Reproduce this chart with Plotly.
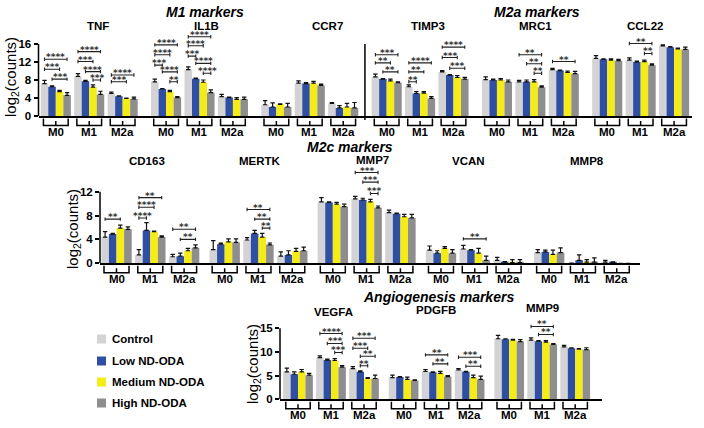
import plotly.graph_objects as go

W, H = 704, 428

TREATMENTS = ["Control", "Low ND-ODA", "Medium ND-ODA", "High ND-ODA"]
COLORS = ["#d3d3d5", "#2f4fa3", "#f5ec17", "#8e8e8e"]
GROUPS = ["M0", "M1", "M2a"]

ROW1_GENES = ["TNF", "IL1B", "CCR7", "TIMP3", "MRC1", "CCL22"]
ROW2_GENES = ["CD163", "MERTK", "MMP7", "VCAN", "MMP8"]
ROW3_GENES = ["VEGFA", "PDGFB", "MMP9"]

# means [group][treatment], errors [group][treatment]
TNF_MEAN = [[7.2, 6.5, 5.4, 4.6], [8.8, 7.7, 6.4, 4.8], [5.0, 4.4, 3.9, 3.8]]
TNF_ERR = [[0.7, 0.2, 0.3, 0.6], [0.6, 0.2, 0.5, 0.7], [0.3, 0.1, 0.1, 0.4]]
IL1B_MEAN = [[7.6, 6.0, 5.4, 4.1], [10.3, 8.3, 7.5, 5.2], [4.3, 4.1, 3.7, 3.7]]
IL1B_ERR = [[0.6, 0.1, 0.3, 0.2], [0.6, 0.1, 0.5, 0.6], [0.5, 0.1, 0.4, 0.5]]
CCR7_MEAN = [[2.5, 2.0, 2.6, 2.0], [7.3, 7.2, 7.3, 6.8], [2.8, 1.8, 2.0, 1.8]]
CCR7_ERR = [[0.9, 0.9, 0.1, 0.8], [0.5, 0.2, 0.4, 0.3], [0.2, 0.5, 0.8, 1.2]]
TIMP3_MEAN = [[8.7, 8.2, 7.8, 7.4], [6.5, 5.0, 5.1, 3.9], [9.8, 9.1, 8.6, 8.2]]
TIMP3_ERR = [[0.6, 0.1, 0.4, 0.2], [0.4, 0.4, 0.3, 0.4], [0.3, 0.1, 0.4, 0.4]]
MRC1_MEAN = [[8.1, 8.0, 8.0, 7.6], [7.6, 7.6, 7.6, 6.4], [10.3, 10.1, 9.7, 9.4]]
MRC1_ERR = [[0.6, 0.2, 0.3, 0.4], [0.3, 0.4, 0.5, 0.3], [0.3, 0.1, 0.3, 0.5]]
CCL22_MEAN = [[12.8, 12.6, 12.4, 12.3], [12.4, 12.0, 12.1, 11.3], [15.6, 15.3, 14.9, 14.8]]
CCL22_ERR = [[0.6, 0.1, 0.3, 0.3], [0.5, 0.2, 0.3, 0.3], [0.2, 0.1, 0.2, 0.5]]

CD163_MEAN = [[4.4, 4.9, 5.9, 5.7], [1.4, 5.5, 5.3, 4.4], [1.1, 1.2, 2.1, 2.6]]
CD163_ERR = [[0.9, 0.1, 0.5, 0.4], [0.9, 1.3, 0.1, 0.2], [0.4, 0.5, 0.4, 0.5]]
MERTK_MEAN = [[2.3, 3.2, 3.6, 3.5], [3.9, 5.0, 4.4, 3.1], [1.2, 1.4, 2.0, 2.1]]
MERTK_ERR = [[1.5, 0.2, 0.5, 0.6], [0.4, 0.5, 0.6, 0.3], [0.7, 0.7, 0.5, 0.6]]
MMP7_MEAN = [[10.3, 10.2, 9.9, 9.5], [10.8, 10.6, 10.3, 9.3], [8.5, 8.3, 7.8, 7.6]]
MMP7_ERR = [[0.7, 0.1, 0.3, 0.4], [0.4, 0.3, 0.4, 0.3], [0.4, 0.1, 0.4, 0.6]]
VCAN_MEAN = [[2.2, 1.7, 2.5, 1.7], [2.4, 2.2, 1.7, 0.5], [0.5, 0.2, 0.1, 0.1]]
VCAN_ERR = [[0.7, 0.4, 0.3, 0.6], [0.6, 0.1, 0.8, 0.7], [0.5, 0.1, 0.5, 0.5]]
MMP8_MEAN = [[1.8, 1.9, 1.5, 1.8], [0.05, 0.5, 0.2, 0.2], [0.2, 0.1, 0.0, 0.0]]
MMP8_ERR = [[0.5, 0.3, 0.7, 0.8], [0.0, 0.9, 0.4, 0.7], [0.3, 0.15, 0.0, 0.0]]

VEGFA_MEAN = [[5.8, 5.3, 5.8, 5.1], [8.8, 8.3, 8.2, 6.8], [6.5, 5.8, 4.4, 4.4]]
VEGFA_ERR = [[0.8, 0.5, 0.5, 0.4], [0.4, 0.2, 0.4, 0.3], [0.4, 0.2, 0.2, 0.7]]
PDGFB_MEAN = [[4.6, 4.7, 4.2, 4.0], [5.9, 5.7, 5.5, 4.8], [6.2, 5.8, 4.6, 4.2]]
PDGFB_ERR = [[0.5, 0.1, 0.5, 0.1], [0.4, 0.1, 0.4, 0.2], [0.3, 0.1, 0.5, 0.7]]
MMP9_MEAN = [[12.8, 12.7, 12.5, 12.2], [12.5, 12.3, 12.1, 11.6], [11.1, 10.8, 10.6, 10.5]]
MMP9_ERR = [[0.7, 0.1, 0.2, 0.4], [0.5, 0.1, 0.3, 0.2], [0.3, 0.1, 0.1, 0.4]]

# significance: (group, bar_a, bar_b, level, label)
TNF_SIG = [(0, 0, 3, 12.6, "****"), (0, 0, 2, 10.4, "***"), (0, 1, 3, 8.2, "***"),
           (1, 0, 3, 14.3, "****"), (1, 0, 2, 12.1, "***"), (1, 1, 3, 9.85, "****"), (1, 2, 3, 8.0, "***"),
           (2, 0, 3, 9.1, "****"), (2, 0, 2, 7.6, "***")]
IL1B_SIG = [(0, 0, 3, 15.8, "****"), (0, 0, 2, 13.6, "****"), (0, 0, 1, 11.3, "***"),
            (0, 1, 3, 9.8, "****"), (0, 2, 3, 7.6, "**"),
            (1, 0, 3, 17.6, "****"), (1, 0, 2, 15.6, "****"), (1, 0, 1, 13.3, "***"),
            (1, 1, 3, 11.7, "****"), (1, 2, 3, 9.5, "****")]
CCR7_SIG = []
TIMP3_SIG = [(0, 0, 3, 13.6, "***"), (0, 0, 2, 11.8, "**"), (0, 1, 3, 9.8, "**"),
             (1, 0, 3, 11.8, "****"), (1, 0, 2, 9.8, "**"), (1, 0, 1, 7.6, "**"),
             (2, 0, 3, 15.3, "****"), (2, 0, 2, 13.0, "***"), (2, 1, 3, 10.6, "***")]
MRC1_SIG = [(1, 0, 3, 13.6, "**"), (1, 1, 3, 11.6, "**"), (1, 2, 3, 9.5, "**"), (2, 0, 3, 12.1, "**")]
CCL22_SIG = [(1, 0, 3, 16.1, "**"), (1, 2, 3, 13.9, "**")]
CD163_SIG = [(0, 0, 2, 7.4, "**"), (1, 0, 3, 11.0, "**"), (1, 0, 2, 9.4, "****"), (1, 0, 1, 7.6, "****"),
             (2, 0, 3, 5.7, "**"), (2, 1, 3, 4.0, "**")]
MERTK_SIG = [(1, 0, 3, 9.0, "**"), (1, 1, 3, 7.4, "**"), (1, 2, 3, 5.9, "**")]
MMP7_SIG = [(1, 0, 3, 15.2, "***"), (1, 1, 3, 13.6, "***"), (1, 2, 3, 11.7, "***")]
VCAN_SIG = [(1, 0, 3, 4.1, "**")]
MMP8_SIG = []
VEGFA_SIG = [(1, 0, 3, 13.9, "****"), (1, 1, 3, 11.8, "***"), (1, 2, 3, 9.9, "***"),
             (2, 0, 3, 12.9, "***"), (2, 0, 2, 10.8, "***"), (2, 1, 3, 9.1, "**"), (2, 1, 2, 7.1, "**")]
PDGFB_SIG = [(1, 0, 3, 9.4, "**"), (1, 1, 3, 7.5, "**"), (2, 0, 3, 8.9, "***"), (2, 1, 3, 7.0, "**")]
MMP9_SIG = [(1, 0, 3, 15.4, "**"), (1, 1, 3, 13.7, "**")]

MEANS = {"TNF": TNF_MEAN, "IL1B": IL1B_MEAN, "CCR7": CCR7_MEAN, "TIMP3": TIMP3_MEAN,
         "MRC1": MRC1_MEAN, "CCL22": CCL22_MEAN, "CD163": CD163_MEAN, "MERTK": MERTK_MEAN,
         "MMP7": MMP7_MEAN, "VCAN": VCAN_MEAN, "MMP8": MMP8_MEAN, "VEGFA": VEGFA_MEAN,
         "PDGFB": PDGFB_MEAN, "MMP9": MMP9_MEAN}
ERRS = {"TNF": TNF_ERR, "IL1B": IL1B_ERR, "CCR7": CCR7_ERR, "TIMP3": TIMP3_ERR,
        "MRC1": MRC1_ERR, "CCL22": CCL22_ERR, "CD163": CD163_ERR, "MERTK": MERTK_ERR,
        "MMP7": MMP7_ERR, "VCAN": VCAN_ERR, "MMP8": MMP8_ERR, "VEGFA": VEGFA_ERR,
        "PDGFB": PDGFB_ERR, "MMP9": MMP9_ERR}
SIGS = {"TNF": TNF_SIG, "IL1B": IL1B_SIG, "CCR7": CCR7_SIG, "TIMP3": TIMP3_SIG,
        "MRC1": MRC1_SIG, "CCL22": CCL22_SIG, "CD163": CD163_SIG, "MERTK": MERTK_SIG,
        "MMP7": MMP7_SIG, "VCAN": VCAN_SIG, "MMP8": MMP8_SIG, "VEGFA": VEGFA_SIG,
        "PDGFB": PDGFB_SIG, "MMP9": MMP9_SIG}

# layout of the three rows (pixel geometry)
ROWS = [
    dict(genes=ROW1_GENES, step=3.3, ax="", xpx=(38.5, 692.0), c0=55.8, ppx=33.42,
         base=116.0, ppu=4.5, axis_max=16, top=19.0, ticks=[0, 4, 8, 12, 16],
         glabel=[(98, 26), (206, 26), (327, 26), (428, 26), (535, 26), (645, 26)],
         ytitle=(11, 77)),
    dict(genes=ROW2_GENES, step=3.2, ax="2", xpx=(100.0, 640.0), c0=116.5, ppx=33.8,
         base=263.3, ppu=5.97, axis_max=12, top=16.5, ticks=[0, 4, 8, 12],
         glabel=[(147, 161), (260, 161), (372, 160), (469, 161), (587, 161)],
         ytitle=(73, 229)),
    dict(genes=ROW3_GENES, step=3.2, ax="3", xpx=(280.0, 602.0), c0=298.0, ppx=33.0,
         base=399.3, ppu=4.73, axis_max=15, top=16.5, ticks=[0, 5, 10, 15],
         glabel=[(333, 312), (436, 310), (542, 308)],
         ytitle=(253, 364)),
]
PANEL_TITLES = [("M1 markers", 205, 12), ("M2a markers", 537, 12),
                ("M2c markers", 350, 147), ("Angiogenesis markers", 438, 297)]
LEGEND_POS = (97, [339, 361, 382, 403])

BAR_GAP = 0.1
BAR_W = (1 - BAR_GAP) / 4
FONT = "Liberation Sans, Arial, sans-serif"
STAR_FONT = "DejaVu Sans, sans-serif"


def py(p):
    return 1 - p / H


fig = go.Figure()
shapes = []
annotations = []

for row in ROWS:
    ax = row["ax"]
    genes = row["genes"]
    xs = [g * row["step"] + k for g in range(len(genes)) for k in range(3)]
    for t in range(4):
        ys = [MEANS[gn][k][t] for gn in genes for k in range(3)]
        es = [ERRS[gn][k][t] for gn in genes for k in range(3)]
        fig.add_trace(go.Bar(
            x=xs, y=ys, name=TREATMENTS[t], showlegend=False,
            marker=dict(color=COLORS[t], line=dict(width=0)),
            error_y=dict(type="data", array=es, arrayminus=[0] * len(es), symmetric=False,
                         color="#111111", thickness=1.2, width=2.2),
            xaxis="x" + ax, yaxis="y" + ax,
        ))

    x0 = (row["xpx"][0] - row["c0"]) / row["ppx"]
    x1 = (row["xpx"][1] - row["c0"]) / row["ppx"]
    fig.layout["xaxis" + ax] = dict(
        domain=[row["xpx"][0] / W, row["xpx"][1] / W], range=[x0, x1],
        showline=True, linecolor="black", linewidth=1.5, ticks="", showticklabels=False,
        showgrid=False, zeroline=False, anchor="y" + ax, fixedrange=True, automargin=False)
    fig.layout["yaxis" + ax] = dict(
        domain=[py(row["base"]), py(row["base"] - row["top"] * row["ppu"])],
        range=[0, row["top"]], showline=False, ticks="outside", ticklen=4, tickwidth=1.5,
        tickcolor="black", tickvals=row["ticks"],
        tickfont=dict(family=FONT, size=11.5, color="black", weight="bold"),
        showgrid=False, zeroline=False, anchor="x" + ax, fixedrange=True, automargin=False)

    # y axis line from 0 to top tick
    shapes.append(dict(type="line", xref="x" + ax + " domain", yref="y" + ax,
                       x0=0, x1=0, y0=0, y1=row["axis_max"],
                       line=dict(color="black", width=1.5)))

    # y title
    tx, ty = row["ytitle"]
    annotations.append(dict(text="log<sub>2</sub>(counts)", xref="paper", yref="paper",
                            x=tx / W, y=py(ty), showarrow=False, textangle=-90,
                            xanchor="center", yanchor="middle",
                            font=dict(family=FONT, size=15, color="black")))

    base = row["base"]
    for gi, gn in enumerate(genes):
        lx, ly = row["glabel"][gi]
        annotations.append(dict(text=gn, xref="paper", yref="paper", x=lx / W, y=py(ly),
                                showarrow=False, xanchor="center", yanchor="middle",
                                font=dict(family=FONT, size=11.5, color="black", weight="bold")))
        for k in range(3):
            c = gi * row["step"] + k
            # group bracket under the axis
            top, bot, mid = py(base + 2.5), py(base + 9.5), py(base + 5)
            xl, xr = c - 0.37, c + 0.37
            shapes.append(dict(type="path", xref="x" + ax, yref="paper",
                               path=f"M{xl},{top} V{bot} H{xr} V{top} M{c},{bot} V{mid}",
                               line=dict(color="black", width=1.5)))
            annotations.append(dict(text=GROUPS[k], xref="x" + ax, yref="paper", x=c,
                                    y=py(base + 16), showarrow=False, xanchor="center",
                                    yanchor="middle",
                                    font=dict(family=FONT, size=11.5, color="black", weight="bold")))
        for (k, a, b, lv, lab) in SIGS[gn]:
            c = gi * row["step"] + k
            xa = c + (a - 1.5) * BAR_W
            xb = c + (b - 1.5) * BAR_W
            h = 1.7 / row["ppu"]
            shapes.append(dict(type="path", xref="x" + ax, yref="y" + ax,
                               path=f"M{xa},{lv - h} V{lv + h} M{xa},{lv} H{xb} M{xb},{lv - h} V{lv + h}",
                               line=dict(color="#222222", width=1.1)))
            annotations.append(dict(text=lab, xref="x" + ax, yref="y" + ax, x=(xa + xb) / 2, y=lv,
                                    showarrow=False, xanchor="center", yanchor="bottom", yshift=-4,
                                    borderpad=0,
                                    font=dict(family=STAR_FONT, size=9, color="#333333",
                                              weight="bold")))

# divider between M1 and M2a marker panels (row 1)
r1 = ROWS[0]
div_x = ((2 * r1["step"] + 2) + 3 * r1["step"]) / 2
shapes.append(dict(type="line", xref="x", yref="paper", x0=div_x, x1=div_x,
                   y0=py(r1["base"] + 4), y1=py(r1["base"] - r1["axis_max"] * r1["ppu"]),
                   line=dict(color="black", width=1.5)))

# panel titles
for txt, tx, ty in PANEL_TITLES:
    annotations.append(dict(text=txt, xref="paper", yref="paper", x=tx / W, y=py(ty),
                            showarrow=False, xanchor="center", yanchor="middle", borderpad=0,
                            font=dict(family=FONT, size=14, color="black", weight="bold",
                                      style="italic")))

# legend
lx, lys = LEGEND_POS
for t, ly in enumerate(lys):
    shapes.append(dict(type="rect", xref="paper", yref="paper",
                       x0=lx / W, x1=(lx + 9) / W, y0=py(ly + 4.5), y1=py(ly - 4.5),
                       fillcolor=COLORS[t], line=dict(width=0)))
    annotations.append(dict(text=TREATMENTS[t], xref="paper", yref="paper", x=(lx + 13) / W,
                            y=py(ly), showarrow=False, xanchor="left", yanchor="middle",
                            font=dict(family=FONT, size=11.5, color="black", weight="bold")))

fig.update_layout(
    template="none",
    width=W, height=H, autosize=False,
    margin=dict(l=0, r=0, t=0, b=0, pad=0),
    paper_bgcolor="white", plot_bgcolor="white",
    barmode="group", bargap=BAR_GAP, bargroupgap=0,
    showlegend=False,
    shapes=shapes, annotations=annotations,
    font=dict(family=FONT, color="black"),
)

fig.write_html("out.html", config={"displayModeBar": False},
               post_script="document.body.style.margin='0px';")
